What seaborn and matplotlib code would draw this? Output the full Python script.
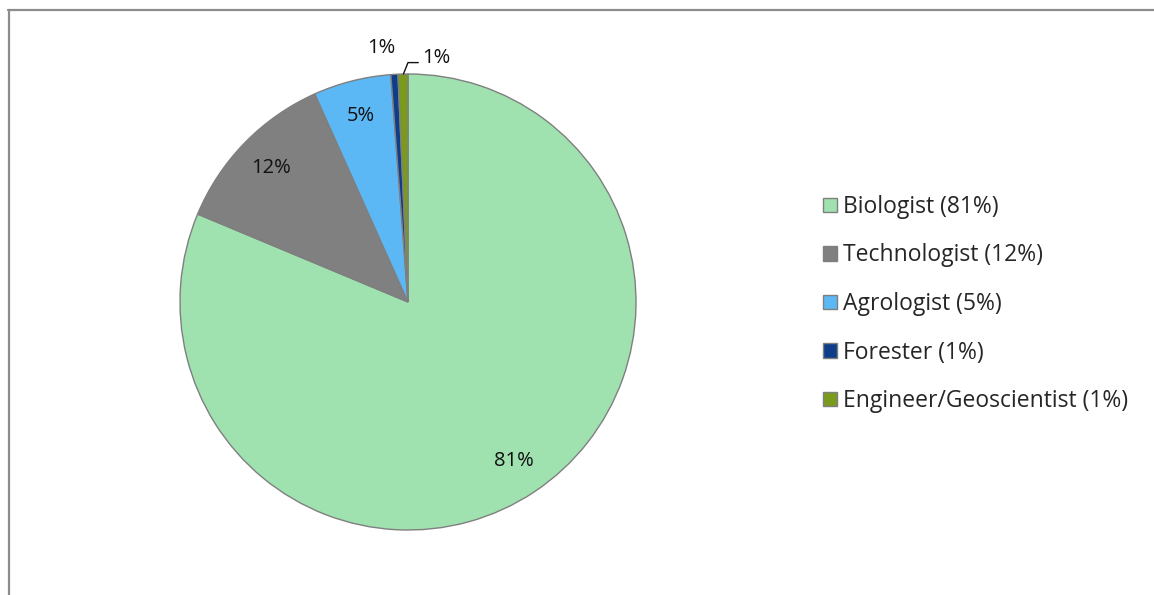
import matplotlib
matplotlib.use("Agg")
import matplotlib.pyplot as plt
import seaborn as sns
from matplotlib.lines import Line2D
from matplotlib.patches import Patch

# slice shares and the labels shown on the chart
CATEGORIES = ["Biologist", "Technologist", "Agrologist", "Forester", "Engineer/Geoscientist"]
SHARES     = [81.3, 12.0, 5.5, 0.5, 0.7]
PCT_LABELS = ["81%", "12%", "5%", "1%", "1%"]
COLORS     = ["#9fe2b0", "#808080", "#5cb8f4", "#0e3d8a", "#7a9a1e"]

sns.set_theme(style="white")
plt.rcParams["font.family"] = ["Open Sans", "DejaVu Sans"]

W, H = 1154, 595
fig = plt.figure(figsize=(W / 100, H / 100), dpi=100)

# pie centre / radius in pixels
CX, CY, R = 408, 302, 228
ax = fig.add_axes([(CX - R) / W, (H - CY - R) / H, 2 * R / W, 2 * R / H])

wedges, texts, autotexts = ax.pie(
    SHARES, colors=COLORS, startangle=90, counterclock=False,
    autopct="%1.0f%%", pctdistance=0.84,
    wedgeprops={"edgecolor": "#7f7f7f", "linewidth": 1.0},
    textprops={"fontsize": 14.5, "color": "#111111"},
)
for t, lab in zip(autotexts, PCT_LABELS):
    t.set_text(lab)

# small slices: labels pulled outside, one with a leader line
autotexts[3].set_position((-0.115, 1.115))
autotexts[4].set_position((0.125, 1.07))
ax.plot([-0.02, 0.0, 0.045], [1.0, 1.05, 1.05], color="#111111", lw=1.0, clip_on=False)

ax.set_xlim(-1, 1)
ax.set_ylim(-1, 1)
ax.set_aspect("equal")
ax.axis("off")

handles = [Patch(facecolor=c, edgecolor="#7f7f7f", linewidth=1.0) for c in COLORS]
legend_labels = [f"{c} ({p})" for c, p in zip(CATEGORIES, PCT_LABELS)]
fig.legend(
    handles, legend_labels, loc="center left", bbox_to_anchor=(812 / W, 1 - 304 / H),
    frameon=False, fontsize=16.5, handlelength=0.6, handleheight=0.6,
    handletextpad=0.25, labelspacing=1.07, borderpad=0,
)

# chart frame (only top and left edges visible in the image)
fig.add_artist(Line2D([8 / W, 1.0], [1 - 9.5 / H, 1 - 9.5 / H], color="#8c8c8c", lw=1.6))
fig.add_artist(Line2D([8.5 / W, 8.5 / W], [0.0, 1 - 9.5 / H], color="#8c8c8c", lw=1.6))

fig.savefig("out.png", dpi=100, facecolor="white")
